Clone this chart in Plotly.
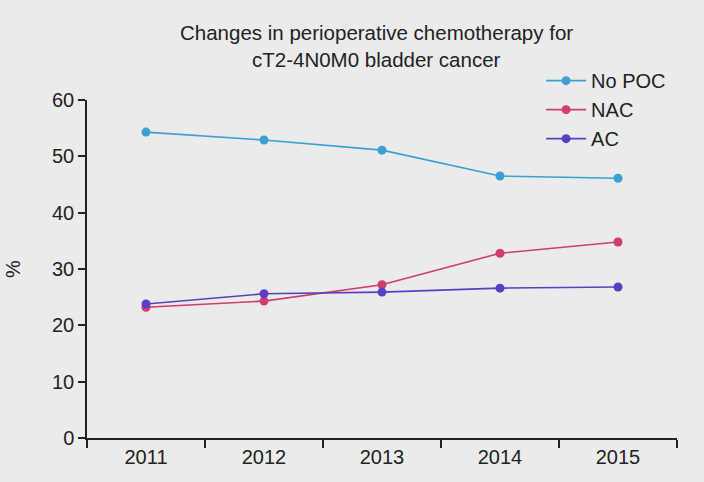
import plotly.graph_objects as go

years = ["2011", "2012", "2013", "2014", "2015"]
no_poc = [54.3, 52.9, 51.1, 46.5, 46.1]
nac = [23.2, 24.3, 27.2, 32.8, 34.8]
ac = [23.8, 25.6, 25.9, 26.6, 26.8]
title_lines = ["Changes in perioperative chemotherapy for", "cT2-4N0M0 bladder cancer"]

series = [
    ("No POC", no_poc, "#3c9fd2"),
    ("NAC", nac, "#d23c6e"),
    ("AC", ac, "#5b3fbf"),
]

fig = go.Figure()
for name, vals, col in series:
    fig.add_trace(go.Scatter(
        x=years, y=vals, name=name, mode="lines+markers",
        line=dict(color=col, width=1.6),
        marker=dict(color=col, size=9),
    ))

font = "Liberation Sans, Arial, sans-serif"
for txt, yy in zip(title_lines, [1.2, 1.12]):
    fig.add_annotation(
        text=txt, xref="paper", yref="paper", x=0.49, y=yy,
        xanchor="center", yanchor="middle", showarrow=False,
        borderpad=0,
        font=dict(size=20.5, family=font, color="#222222"),
    )

fig.update_layout(
    width=704, height=482,
    paper_bgcolor="#ebebeb", plot_bgcolor="#ebebeb",
    margin=dict(l=85, r=27, t=100, b=44),
    font=dict(family=font, color="#222222", size=19),
    legend=dict(
        x=0.99, xanchor="right", y=1.115, yanchor="top",
        bgcolor="rgba(0,0,0,0)", font=dict(size=20),
        tracegroupgap=0, itemwidth=40,
    ),
    xaxis=dict(
        type="category", range=[-0.5, 4.5],
        showline=True, linecolor="#222222", linewidth=1.5,
        ticks="outside", tickson="boundaries", ticklen=8, tickwidth=1.5,
        tickcolor="#222222", showgrid=False, zeroline=False,
        tickfont=dict(size=20),
    ),
    yaxis=dict(
        range=[0, 60], tickvals=[0, 10, 20, 30, 40, 50, 60],
        showline=True, linecolor="#222222", linewidth=1.5,
        ticks="outside", ticklen=7, tickwidth=1.5, tickcolor="#222222",
        showgrid=False, zeroline=False,
        title=dict(text="%", standoff=26, font=dict(size=20)),
        tickfont=dict(size=20),
    ),
)

fig.write_html("out.html")
